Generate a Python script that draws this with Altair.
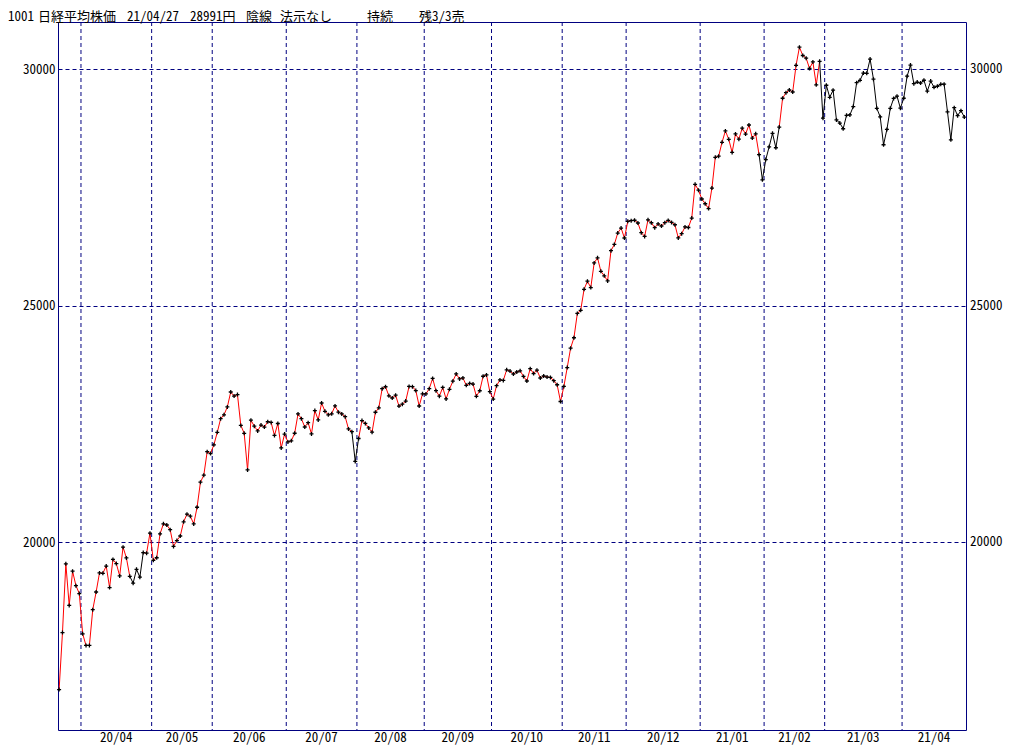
import altair as alt
import pandas as pd

# Nikkei 225 daily closes, 2020-03-23 .. 2021-04-27 (trading-day order)
values = [
    16887, 18092, 19546, 18665, 19389, 19084, 18917,
    18065, 17819, 17820, 18576, 18950, 19353, 19345, 19498, 19043, 19638, 19550, 19290, 19897,
    19669, 19281, 19137, 19429, 19262, 19783, 19771, 20193,
    19619, 19674, 20179, 20390, 20366, 20267, 19914, 20037, 20133, 20433, 20595, 20552, 20388,
    20741, 21271, 21419, 21916, 21877,
    22062, 22325, 22613, 22695, 22863, 23178, 23091, 23124, 22472, 22305, 21530, 22582, 22455,
    22355, 22478, 22437, 22549, 22534, 22259, 22512, 21995, 22288,
    22122, 22145, 22306, 22714, 22614, 22438, 22529, 22291, 22784, 22587, 22945, 22770, 22696,
    22717, 22884, 22751, 22715, 22657, 22397, 22339, 21710,
    22195, 22573, 22514, 22418, 22329, 22750, 22843, 23249, 23289, 23096, 23051, 23110, 22880,
    22920, 22985, 23296, 23290, 23208, 22882, 23139,
    23138, 23247, 23465, 23205, 23089, 23274, 23032, 23235, 23406, 23559, 23454, 23475, 23319,
    23360, 23346, 23087, 23204, 23511, 23539, 23185,
    23029, 23312, 23433, 23422, 23647, 23620, 23558, 23601, 23626, 23507, 23410, 23671, 23567,
    23640, 23474, 23516, 23494, 23485, 23418, 23331, 22977,
    23295, 23695, 24105, 24325, 24839, 24905, 25349, 25520, 25385, 25906, 26014, 25728, 25634,
    25527, 26165, 26297, 26537, 26644, 26433,
    26787, 26800, 26809, 26751, 26547, 26467, 26817, 26756, 26652, 26732, 26687, 26757, 26806,
    26763, 26714, 26436, 26524, 26668, 26656, 26854, 27568, 27444,
    27258, 27158, 27055, 27490, 28139, 28164, 28456, 28698, 28519, 28242, 28633, 28523, 28756,
    28631, 28822, 28546, 28635, 28197, 27663,
    28091, 28362, 28646, 28341, 28779, 29388, 29505, 29562, 29520, 30084, 30467, 30292, 30236,
    30017, 30156, 29671, 30168, 28966,
    29663, 29408, 29559, 28930, 28864, 28743, 29028, 29036, 29211, 29717, 29766, 29921, 29914,
    30216, 29792, 29174, 28995, 28405, 28729, 29176, 29384, 29432, 29178,
    29388, 29854, 30089, 29696, 29730, 29708, 29768, 29538, 29751, 29620, 29642, 29683, 29685,
    29100, 28508, 29188, 29020, 29126, 28991,
]

month_labels = ["20/04", "20/05", "20/06", "20/07", "20/08", "20/09", "20/10",
                "20/11", "20/12", "21/01", "21/02", "21/03", "21/04"]
month_starts = [7, 28, 46, 68, 89, 109, 129, 150, 169, 191, 210, 228, 251]

# segments (from day i to day i+1) drawn black (sell state); all others red
black_ranges = [(21, 24), (87, 88), (208, 213), (226, 268)]

y_ticks = [20000, 25000, 30000]

title_parts = ["1001", "日経平均株価", "21/04/27", "28991円", "陰線", "法示なし", "持続", "残3/3売"]

# ---------------- layout ----------------
W, H = 908, 708
NAVY = "#000080"
FONT = "Noto Sans Mono CJK JP, Noto Sans CJK JP, sans-serif"
title_x = [-50, -20, 69, 132, 188, 222, 309, 361]

n = len(values)
xscale = alt.Scale(domain=[-0.33, n - 0.5], nice=False, zero=False)
yscale = alt.Scale(domain=[16032, 31000], nice=False, zero=False)
yaxis = alt.Axis(values=y_ticks, title=None, grid=True, gridColor=NAVY,
                 gridDash=[4, 3], gridOpacity=1, gridWidth=1, domain=False, ticks=False,
                 labelPadding=3, labelFont=FONT, labelFontSize=13,
                 labelColor="black", format="d")

state = ["up"] * (n - 1)
for a, b in black_ranges:
    for k in range(a, b + 1):
        state[k] = "down"

seg = pd.DataFrame({
    "i": list(range(n - 1)),
    "i2": list(range(1, n)),
    "v": values[:-1],
    "v2": values[1:],
    "s": state,
})
pts = pd.DataFrame({"i": list(range(n)), "v": values})

ends = month_starts[1:] + [n]
months = pd.DataFrame({
    "label": month_labels,
    "b": [s - 0.5 for s in month_starts],
    "mid": [(s + e - 1) / 2 for s, e in zip(month_starts, ends)],
})

base_x = alt.X("i:Q", scale=xscale, axis=None)

vgrid = alt.Chart(months).mark_rule(color=NAVY, strokeWidth=1, strokeDash=[4, 3]).encode(
    x=alt.X("b:Q", scale=xscale, axis=None)
)

ydummy = alt.Chart(pd.DataFrame({"v": y_ticks})).mark_rule(opacity=0).encode(
    y=alt.Y("v:Q", scale=yscale, axis=yaxis)
)

right_labels = alt.Chart(pd.DataFrame({"v": y_ticks})).mark_text(
    align="left", baseline="middle", font=FONT, fontSize=13, color="black"
).encode(
    x=alt.value(W + 4),
    y=alt.Y("v:Q", scale=yscale, axis=yaxis),
    text=alt.Text("v:Q", format="d"),
)

lines = alt.Chart(seg).mark_rule(strokeWidth=1).encode(
    x=base_x,
    x2="i2:Q",
    y=alt.Y("v:Q", scale=yscale, axis=yaxis),
    y2="v2:Q",
    color=alt.Color("s:N", scale=alt.Scale(domain=["up", "down"], range=["#ff0000", "#000000"]),
                    legend=None),
)

points = alt.Chart(pts).mark_point(
    shape="M-1,0H1M0,-1V1", filled=False, color="black", size=16, strokeWidth=1.3, opacity=1
).encode(
    x=base_x,
    y=alt.Y("v:Q", scale=yscale, axis=yaxis),
)

mlabels = alt.Chart(months).mark_text(
    baseline="top", align="center", font=FONT, fontSize=13, color="black"
).encode(
    x=alt.X("mid:Q", scale=xscale, axis=None),
    y=alt.value(H + 2),
    text="label:N",
)

title_layers = []
for txt, tx in zip(title_parts, title_x):
    title_layers.append(
        alt.Chart(pd.DataFrame({"t": [txt]})).mark_text(
            align="left", baseline="alphabetic", font=FONT, fontSize=13, color="black"
        ).encode(x=alt.value(tx), y=alt.value(-1), text="t:N")
    )

chart = alt.layer(ydummy, vgrid, lines, points, right_labels, mlabels, *title_layers).properties(
    width=W, height=H,
    autosize=alt.AutoSizeParams(type="none"),
    padding={"left": 50, "top": 14, "right": 50, "bottom": 18},
    background="white",
).configure_view(stroke=NAVY, strokeWidth=1)

chart.save("out.html", embed_options={"renderer": "svg", "actions": False})
